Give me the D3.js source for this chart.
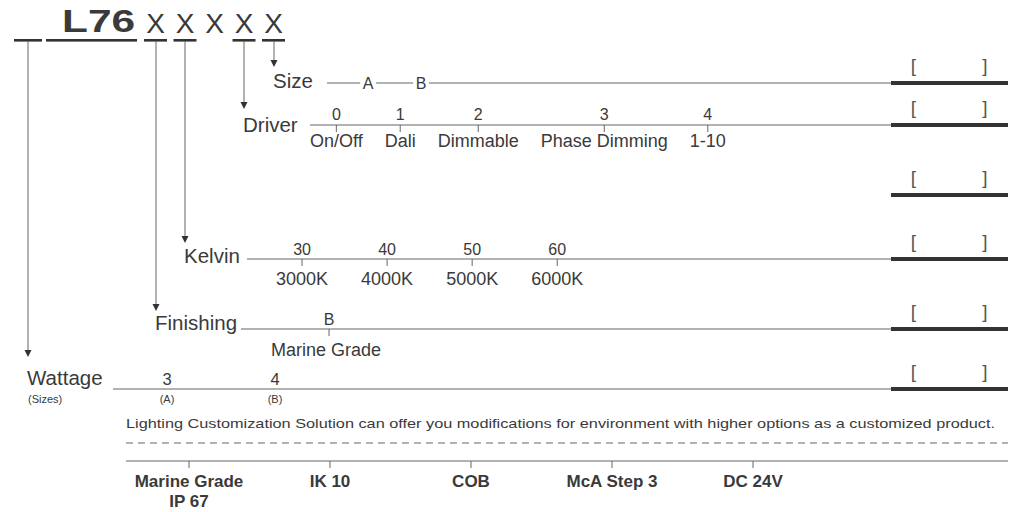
<!DOCTYPE html>
<html><head><meta charset="utf-8">
<script src="https://cdn.jsdelivr.net/npm/d3@7"></script>
<style>
body{margin:0;background:#fff}
svg{display:block}
text{font-family:"Liberation Sans",Arial,Helvetica,sans-serif;fill:#3a3a3a}
</style>
</head><body><script>
// ---------- data ----------
const headerCodes = ["", "L76", "X", "X", "X", "X", "X"];
const underlined = [true, true, true, true, false, true, true];
const rowNames = ["Size", "Driver", "", "Kelvin", "Finishing", "Wattage"];
const rowSource = [6, 5, null, 3, 2, 0]; // which header code points to each row
const sizeCodes = ["A", "B"];
const driverCodes = ["0", "1", "2", "3", "4"];
const driverLabels = ["On/Off", "Dali", "Dimmable", "Phase Dimming", "1-10"];
const kelvinCodes = ["30", "40", "50", "60"];
const kelvinLabels = ["3000K", "4000K", "5000K", "6000K"];
const finishingCodes = ["B"];
const finishingLabels = ["Marine Grade"];
const wattageCodes = ["3", "4"];
const wattageSizes = ["(A)", "(B)"];
const wattageNote = "(Sizes)";
const noteText = "Lighting Customization Solution can offer you modifications for environment with higher options as a customized product.";
const customOptions = [["Marine Grade", "IP 67"], ["IK 10"], ["COB"], ["McA Step 3"], ["DC 24V"]];

// ---------- layout ----------
const W = 1009, H = 512;
const rowLayout = [
  {y: 83, labelY: 88, lineX: 327, tip: 67},
  {y: 125, labelY: 132, lineX: 310, tip: 109},
  {y: 195},
  {y: 259, labelY: 263, lineX: 247, tip: 243},
  {y: 329, labelY: 330, lineX: 241, tip: 311},
  {y: 389, labelY: 385, lineX: 113, tip: 357}
];
const barX0 = 891, barX1 = 1008;
const lineColor = "#666", darkColor = "#333";

const svg = d3.select("body").append("svg").attr("width", W).attr("height", H);

// header
const xCodeScale = d3.scalePoint().domain(d3.range(2, 7)).range([155.5, 273.5]);
const headerX = i => (i === 0 ? 28 : i === 1 ? 91.5 : xCodeScale(i));
const headerW = [28, 91, 23, 23, 23, 23, 23];
const hg = svg.append("g");
headerCodes.forEach((c, i) => {
  const cx = headerX(i);
  if (c === "L76") {
    hg.append("text").attr("x", 62).attr("y", 32).attr("font-size", 32).attr("font-weight", "bold")
      .attr("textLength", 73).attr("lengthAdjust", "spacingAndGlyphs").text(c);
  } else if (c) {
    hg.append("text").attr("x", cx).attr("y", 33).attr("text-anchor", "middle").attr("font-size", 28).text(c);
  }
  if (underlined[i]) {
    hg.append("rect").attr("x", cx - headerW[i] / 2).attr("y", 39).attr("width", headerW[i]).attr("height", 2.6).attr("fill", darkColor);
  }
});

// rows
rowNames.forEach((name, r) => {
  const L = rowLayout[r];
  const g = svg.append("g");
  g.append("rect").attr("x", barX0).attr("y", L.y - 2).attr("width", barX1 - barX0).attr("height", 4).attr("fill", darkColor);
  g.append("text").attr("x", 913.5).attr("y", L.y - 11).attr("text-anchor", "middle").attr("font-size", 19).style("fill", "#555").text("[");
  g.append("text").attr("x", 985).attr("y", L.y - 11).attr("text-anchor", "middle").attr("font-size", 19).style("fill", "#555").text("]");
  if (!name) return;
  const ax = Math.round(headerX(rowSource[r]));
  g.append("line").attr("x1", ax).attr("x2", ax).attr("y1", 41).attr("y2", L.tip - 5).attr("stroke", lineColor).attr("stroke-width", 1);
  g.append("path").attr("d", `M${ax - 3.5},${L.tip - 7}L${ax + 3.5},${L.tip - 7}L${ax},${L.tip}Z`).attr("fill", darkColor);
  g.append("text").attr("x", ax - 1).attr("y", L.labelY).attr("font-size", 20.5).text(name);
  g.append("line").attr("x1", L.lineX).attr("x2", barX0).attr("y1", L.y).attr("y2", L.y).attr("stroke", lineColor).attr("stroke-width", 1.2);
});

function flow(labels, x0, gap, y, size) {
  const centers = [];
  let cur = x0;
  labels.forEach(t => {
    const el = svg.append("text").attr("y", y).attr("font-size", size).attr("text-anchor", "middle").text(t);
    const w = el.node().getComputedTextLength();
    el.attr("x", cur + w / 2);
    centers.push(cur + w / 2);
    cur += w + gap;
  });
  return centers;
}
function codes(list, centers, y, size) {
  list.forEach((c, i) => svg.append("text").attr("x", centers[i]).attr("y", y).attr("text-anchor", "middle").attr("font-size", size).text(c));
}
function ticks(centers, y) {
  centers.forEach(cx => svg.append("line").attr("x1", cx).attr("x2", cx).attr("y1", y).attr("y2", y + 7).attr("stroke", lineColor).attr("stroke-width", 1));
}

// Size row: letters sit on the line
const sizeX = d3.scalePoint().domain(sizeCodes).range([368, 421]);
sizeCodes.forEach(c => {
  const t = svg.append("text").attr("x", sizeX(c)).attr("y", 88.5).attr("text-anchor", "middle").attr("font-size", 16).text(c);
  const bb = t.node().getBBox();
  svg.insert("rect", () => t.node()).attr("x", bb.x - 2.5).attr("y", rowLayout[0].y - 2).attr("width", bb.width + 5).attr("height", 4).attr("fill", "#fff");
});

// Driver
const dC = flow(driverLabels, 310, 22, 147, 18);
codes(driverCodes, dC, 120, 16);
ticks(dC, rowLayout[1].y);

// Kelvin
const kC = flow(kelvinLabels, 276, 33, 285, 18);
codes(kelvinCodes, kC, 255, 16);
ticks(kC, rowLayout[3].y);

// Finishing
const fC = flow(finishingLabels, 271, 0, 356, 18).map(c => c + 3);
codes(finishingCodes, fC, 325, 16);
ticks(fC, rowLayout[4].y);

// Wattage
const wX = d3.scalePoint().domain(wattageCodes).range([167, 275]);
const wC = wattageCodes.map(c => wX(c));
codes(wattageCodes, wC, 385, 16.5);
codes(wattageSizes, wC, 403, 11);
svg.append("text").attr("x", 28).attr("y", 403).attr("font-size", 11).text(wattageNote);

// note
svg.append("text").attr("x", 126).attr("y", 428).attr("font-size", 13)
  .style("font-family", "'Liberation Sans Narrow','Arial Narrow','Liberation Sans',sans-serif")
  .attr("textLength", 869).attr("lengthAdjust", "spacingAndGlyphs").text(noteText);
svg.append("line").attr("x1", 126).attr("x2", 1008).attr("y1", 443).attr("y2", 443)
  .attr("stroke", lineColor).attr("stroke-width", 1).attr("stroke-dasharray", "7,5");
svg.append("line").attr("x1", 126).attr("x2", 1008).attr("y1", 461).attr("y2", 461)
  .attr("stroke", lineColor).attr("stroke-width", 1.2);

// custom options
const oX = d3.scalePoint().domain(d3.range(customOptions.length)).range([189, 753]);
customOptions.forEach((lines, i) => {
  const cx = oX(i);
  svg.append("line").attr("x1", cx).attr("x2", cx).attr("y1", 461).attr("y2", 468).attr("stroke", lineColor);
  lines.forEach((t, j) => svg.append("text").attr("x", cx).attr("y", 487 + j * 20).attr("text-anchor", "middle")
    .attr("font-size", 17).attr("font-weight", "bold").text(t));
});
</script></body></html>
